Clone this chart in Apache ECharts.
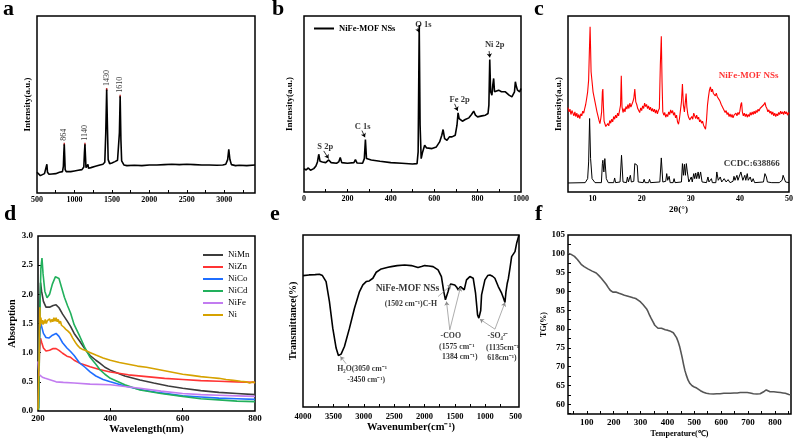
<!DOCTYPE html>
<html><head><meta charset="utf-8">
<script src="https://cdn.jsdelivr.net/npm/echarts@6/dist/echarts.min.js"></script>
<style>html,body{margin:0;padding:0;background:#fff}#c{width:796px;height:439px}</style>
</head><body><div id="c"></div>
<script>
// ---------------- DATA ----------------
// (a) Raman spectrum
const ramanData = [[500,62],[520,58],[545,52],[570,55],[600,58],[615,60],[625,80],[632,86],[640,62],[660,56],[700,57],[750,58],[800,62],[840,64],[852,80],[858,120],[864,146],[870,110],[876,70],[890,64],[950,64],[1000,66],[1050,68],[1100,70],[1125,78],[1133,120],[1140,146],[1147,110],[1154,76],[1170,74],[1180,86],[1188,74],[1220,76],[1280,80],[1340,84],[1380,86],[1405,92],[1418,180],[1430,310],[1440,200],[1450,100],[1470,88],[1500,90],[1540,94],[1560,92],[1575,98],[1590,96],[1600,180],[1610,290],[1620,160],[1630,96],[1660,84],[1700,82],[1800,83],[1900,82],[2000,84],[2100,84],[2200,85],[2300,86],[2400,85],[2500,86],[2600,85],[2700,84],[2800,84],[2900,83],[2980,84],[3020,86],[3045,100],[3060,131],[3075,100],[3095,85],[3150,82],[3200,83],[3300,82],[3410,84]];
const ramanPeaks = [[864,146,'864'],[1140,146,'1140'],[1430,310,'1430'],[1610,290,'1610']];
const ramanXLabels = [500,1000,1500,2000,2500,3000];
const ramanXTicks = [750,1000,1250,1500,1750,2000,2250,2500,2750,3000,3250];

// (b) XPS survey
const xpsData = [[0,70],[10,66],[20,72],[30,65],[45,70],[55,78],[62,90],[68,113],[74,92],[85,90],[100,88],[114,96],[125,88],[150,86],[160,90],[167,103],[174,88],[200,86],[230,88],[237,97],[244,87],[270,86],[278,100],[283,157],[288,100],[295,95],[310,96],[350,92],[400,88],[450,86],[500,84],[521,85],[526,120],[531,500],[535,200],[540,100],[546,118],[556,140],[565,132],[574,130],[590,130],[610,135],[625,150],[635,170],[641,187],[648,160],[659,155],[670,165],[682,165],[697,170],[705,200],[710,237],[715,220],[720,215],[730,212],[743,217],[760,222],[772,232],[782,242],[790,230],[800,225],[820,228],[836,230],[848,235],[852,260],[856,397],[860,300],[866,290],[870,320],[874,340],[878,300],[882,295],[897,305],[910,300],[928,300],[945,290],[958,285],[966,285],[970,300],[974,330],[979,315],[984,305],[989,310],[994,300],[1000,310]];
const xpsLabels = ['S 2p','C 1s','O 1s','Fe 2p','Ni 2p'];
const xpsXLabels = [0,200,400,600,800,1000];
const xpsXTicks = [100,200,300,400,500,600,700,800,900];

// (c) XRD
const xrdSample = [[5.0,253],[5.2,240],[5.4,248],[5.6,232],[5.8,244],[6.0,236],[6.2,228],[6.4,240],[6.6,226],[6.8,236],[7.0,222],[7.2,232],[7.4,220],[7.6,234],[7.8,228],[8.0,242],[8.2,236],[8.4,250],[8.6,262],[8.8,280],[9.0,300],[9.2,335],[9.35,420],[9.5,495],[9.6,430],[9.7,360],[9.9,330],[10.1,300],[10.3,285],[10.5,270],[10.7,255],[10.9,240],[11.1,228],[11.3,215],[11.5,205],[11.7,222],[11.85,240],[12.0,300],[12.1,308],[12.2,260],[12.35,212],[12.5,205],[12.7,196],[12.9,192],[13.1,205],[13.3,198],[13.5,214],[13.7,206],[13.9,218],[14.1,210],[14.3,226],[14.5,218],[14.7,230],[14.9,222],[15.1,236],[15.3,228],[15.5,244],[15.7,260],[15.85,348],[16.0,255],[16.2,238],[16.4,250],[16.6,240],[16.8,256],[17.0,248],[17.2,262],[17.4,250],[17.6,266],[17.8,254],[18.0,262],[18.2,270],[18.4,280],[18.6,308],[18.8,270],[19.0,262],[19.2,250],[19.4,246],[19.6,238],[19.8,252],[20.0,244],[20.2,258],[20.4,250],[20.6,266],[20.8,256],[21.0,262],[21.2,250],[21.4,258],[21.6,246],[21.8,254],[22.0,242],[22.2,250],[22.4,240],[22.6,248],[22.8,236],[23.0,246],[23.2,234],[23.4,244],[23.6,250],[23.8,380],[24.0,466],[24.15,330],[24.3,240],[24.5,230],[24.7,238],[24.9,224],[25.1,232],[25.3,226],[25.5,240],[25.7,232],[25.9,246],[26.1,236],[26.3,244],[26.5,230],[26.7,238],[26.9,222],[27.1,230],[27.3,210],[27.5,203],[27.7,220],[27.9,245],[28.1,270],[28.3,323],[28.5,260],[28.7,240],[28.9,270],[29.05,295],[29.2,255],[29.4,232],[29.6,222],[29.8,216],[30.0,212],[30.2,226],[30.4,218],[30.6,236],[30.8,228],[31.0,220],[31.2,230],[31.4,218],[31.6,224],[31.8,210],[32.0,216],[32.2,206],[32.4,212],[32.6,200],[32.8,196],[33.0,188],[33.2,215],[33.4,260],[33.6,285],[33.8,305],[34.0,315],[34.2,300],[34.4,308],[34.6,295],[34.8,300],[35.0,288],[35.2,296],[35.4,285],[35.6,280],[35.8,276],[36.0,270],[36.2,262],[36.4,258],[36.6,250],[36.8,246],[37.0,238],[37.2,244],[37.4,232],[37.6,238],[37.8,226],[38.0,234],[38.2,224],[38.4,232],[38.6,222],[38.8,230],[39.0,226],[39.2,236],[39.4,228],[39.6,238],[39.8,232],[40.0,242],[40.2,262],[40.35,268],[40.5,240],[40.7,228],[40.9,236],[41.1,226],[41.3,234],[41.5,224],[41.7,232],[41.9,226],[42.1,238],[42.3,230],[42.5,240],[42.7,232],[42.9,242],[43.1,234],[43.3,244],[43.5,238],[43.7,248],[43.9,242],[44.1,250],[44.3,246],[44.5,256],[44.7,252],[44.9,262],[45.1,268],[45.3,256],[45.5,250],[45.7,240],[45.9,246],[46.1,236],[46.3,242],[46.5,232],[46.7,240],[46.9,228],[47.1,236],[47.3,226],[47.5,234],[47.7,228],[47.9,238],[48.1,232],[48.3,242],[48.5,234],[48.7,240],[48.9,232],[49.1,242],[49.3,234],[49.5,240],[49.7,230],[49.9,238],[50.0,233]];
const xrdRef = [[5,27],[8.5,28],[9.0,40],[9.2,90],[9.4,220],[9.6,100],[9.9,40],[10.5,28],[11.8,28],[12.0,85],[12.1,95],[12.3,60],[12.5,100],[12.6,102],[12.8,40],[13.2,28],[14.3,28],[14.5,42],[14.7,28],[15.6,30],[15.9,110],[16.2,30],[16.9,28],[17.1,45],[17.3,30],[17.6,30],[17.7,50],[17.9,30],[18.4,32],[18.6,85],[18.9,85],[19.1,80],[19.3,30],[20.3,28],[20.5,38],[20.7,28],[21.4,28],[21.6,38],[21.8,28],[23.7,30],[24.0,102],[24.3,30],[24.9,32],[25.1,55],[25.3,35],[25.6,47],[25.8,28],[26.4,28],[26.6,40],[26.8,28],[28.1,30],[28.3,85],[28.5,50],[28.7,83],[28.9,50],[29.1,85],[29.3,60],[29.6,30],[30.0,30],[30.1,45],[30.3,30],[30.6,55],[30.8,40],[31.0,57],[31.2,40],[31.5,60],[31.7,40],[32.0,60],[32.3,30],[33.2,28],[33.5,45],[33.7,30],[34.2,40],[34.4,28],[35.1,28],[35.3,60],[35.6,35],[36.0,45],[36.3,30],[36.8,40],[37.2,30],[37.6,37],[38.0,28],[38.6,32],[38.8,47],[39.0,35],[39.4,50],[39.6,35],[40.2,60],[40.4,65],[40.6,35],[41.0,50],[41.2,35],[41.5,55],[41.7,35],[42.1,45],[42.4,30],[42.7,40],[43.0,28],[44.8,30],[45.1,55],[45.4,45],[45.6,30],[46.5,28],[48.0,28],[48.6,35],[48.8,50],[49.1,45],[49.3,30],[50,28]];
const xrdXLabels = [10,20,30,40,50];

// (d) UV-vis absorption
const uvNames = ['NiMn','NiZn','NiCo','NiCd','NiFe','Ni'];
const uvNiMn = [[201,0.05],[204,1.6],[207,2.2],[210,2.05],[215,1.88],[222,1.78],[232,1.78],[242,1.81],[250,1.82],[258,1.77],[268,1.66],[280,1.55],[290,1.45],[300,1.33],[315,1.2],[330,1.06],[344,0.95],[360,0.87],[371,0.82],[385,0.75],[400,0.7],[440,0.6],[482,0.53],[520,0.48],[560,0.43],[600,0.39],[650,0.35],[700,0.32],[750,0.3],[800,0.28]];
const uvNiZn = [[201,0.05],[204,1.0],[207,1.25],[210,1.18],[215,1.08],[222,1.03],[232,1.04],[242,1.07],[250,1.07],[258,1.04],[268,0.99],[280,0.94],[290,0.92],[300,0.87],[315,0.82],[330,0.79],[344,0.76],[370,0.71],[400,0.67],[450,0.62],[500,0.59],[550,0.56],[600,0.54],[650,0.52],[700,0.51],[750,0.5],[800,0.49]];
const uvNiCo = [[201,0.05],[204,1.2],[207,1.52],[210,1.45],[215,1.33],[222,1.26],[230,1.25],[240,1.3],[250,1.33],[258,1.28],[268,1.17],[280,1.08],[290,1.02],[300,0.95],[314,0.83],[330,0.75],[344,0.67],[360,0.6],[380,0.54],[400,0.5],[440,0.43],[482,0.37],[540,0.31],[600,0.26],[650,0.24],[700,0.22],[750,0.21],[800,0.2]];
const uvNiCd = [[202,0.02],[205,1.6],[208,2.45],[211,2.62],[214,2.35],[219,2.05],[225,1.94],[232,2.0],[240,2.18],[248,2.3],[253,2.31],[258,2.27],[265,2.12],[273,1.95],[282,1.8],[290,1.68],[300,1.48],[314,1.3],[330,1.08],[344,0.92],[360,0.8],[371,0.71],[385,0.63],[400,0.56],[440,0.45],[482,0.36],[540,0.3],[600,0.25],[650,0.21],[700,0.19],[750,0.17],[800,0.16]];
const uvNiFe = [[200,0.85],[202,0.7],[204,0.62],[207,0.6],[212,0.58],[220,0.56],[235,0.53],[250,0.5],[270,0.49],[300,0.48],[344,0.46],[400,0.45],[440,0.42],[482,0.39],[540,0.34],[600,0.3],[650,0.28],[700,0.27],[750,0.26],[800,0.25]];
const uvNi = [[200,0.02],[203,0.9],[205,1.78],[206.5,1.45],[208,1.6],[210,1.5],[212,1.56],[214,1.48],[216,1.55],[218,1.5],[220,1.57],[223,1.5],[226,1.55],[229,1.52],[232,1.58],[235,1.52],[238,1.57],[241,1.53],[244,1.6],[247,1.54],[250,1.6],[253,1.53],[256,1.57],[259,1.5],[262,1.54],[265,1.47],[268,1.5],[271,1.44],[274,1.46],[277,1.4],[280,1.42],[283,1.37],[286,1.38],[289,1.33],[292,1.32],[296,1.25],[300,1.22],[305,1.16],[310,1.12],[316,1.08],[322,1.06],[330,1.04],[345,1.0],[360,0.96],[380,0.91],[400,0.87],[425,0.83],[450,0.8],[475,0.77],[500,0.75],[525,0.72],[550,0.69],[575,0.66],[600,0.63],[625,0.61],[650,0.59],[675,0.575],[700,0.56],[720,0.54],[740,0.525],[760,0.51],[775,0.5],[785,0.48],[795,0.5],[800,0.48]];
const uvXLabels = [200,400,600,800];
const uvYLabels = [0,0.5,1.0,1.5,2.0,2.5,3.0];

// (e) FTIR
const ftirData = [[4000,395],[3900,397],[3800,398],[3730,399],[3680,395],[3620,377],[3565,317],[3510,237],[3455,177],[3417,155],[3373,159],[3318,182],[3235,237],[3153,297],[3070,347],[3015,367],[2960,377],[2910,379],[2888,377],[2850,387],[2795,405],[2712,415],[2600,420],[2547,422],[2450,425],[2327,427],[2217,425],[2107,419],[2050,422],[1997,425],[1930,424],[1859,422],[1777,412],[1722,392],[1683,347],[1656,322],[1639,319],[1612,347],[1590,362],[1568,370],[1540,372],[1502,367],[1470,360],[1447,352],[1420,358],[1408,362],[1380,358],[1347,352],[1309,382],[1254,392],[1199,387],[1160,342],[1127,277],[1106,267],[1089,264],[1075,290],[1061,337],[1006,382],[960,395],[924,397],[880,393],[842,387],[786,362],[731,342],[704,329],[676,314],[660,345],[638,372],[621,385],[594,417],[566,452],[553,450],[539,447],[511,467],[484,492],[445,517]];
const ftirXLabels = [500,1000,1500,2000,2500,3000,3500,4000];
const ftirXTicks = [750,1000,1250,1500,1750,2000,2250,2500,2750,3000,3250,3500,3750];
const ftirNotes = ['NiFe-MOF NSs','(1502 cm⁻¹)C-H','-COO','(1575 cm⁻¹','1384 cm⁻¹)','-SO₄²⁻','(1135cm⁻¹','618cm⁻¹)','H₂O(3050 cm⁻¹','-3450 cm⁻¹)'];

// (f) TG
const tgData = [[32,100.1],[40,99.9],[54,99.3],[65,98.5],[79,97.2],[90,96.6],[104,96.0],[120,95.4],[135,94.9],[145,94.2],[154,93.5],[163,92.7],[172,91.9],[180,91.0],[187,90.3],[197,89.8],[210,89.8],[220,89.5],[228,89.3],[240,89.0],[247,88.8],[260,88.6],[272,88.3],[282,88.1],[291,87.7],[300,87.2],[309,86.5],[316,86.0],[322,85.4],[328,84.6],[334,83.6],[341,82.6],[347,81.8],[353,81.0],[359,80.5],[365,80.2],[372,80.1],[378,80.2],[384,79.7],[392,79.8],[400,79.7],[409,79.5],[416,79.3],[422,79.0],[428,78.5],[434,77.7],[440,76.6],[446,75.2],[450,74.0],[455,72.4],[460,70.6],[465,69.0],[470,67.8],[477,66.4],[484,65.5],[492,64.9],[500,64.6],[509,64.3],[516,63.9],[523,63.6],[534,63.2],[545,62.9],[556,62.8],[571,62.7],[584,62.8],[596,62.8],[610,62.9],[622,62.9],[634,62.9],[648,63.0],[660,63.0],[671,63.1],[685,63.1],[697,63.1],[708,63.0],[720,62.8],[733,62.7],[745,62.8],[752,63.0],[760,63.4],[768,63.8],[774,63.5],[782,63.3],[796,63.3],[810,63.2],[821,63.1],[830,63.0],[839,62.9],[846,62.7],[852,62.6],[858,62.5]];
const tgXLabels = [100,200,300,400,500,600,700,800];
const tgXTicks = [50,100,150,200,250,300,350,400,450,500,550,600,650,700,750,800,850];
const tgYLabels = [60,65,70,75,80,85,90,95,100,105];
const tgYTicks = [57.5,60,62.5,65,67.5,70,72.5,75,77.5,80,82.5,85,87.5,90,92.5,95,97.5,100,102.5];

// ---------------- OPTION ----------------
const SERIF = '"Liberation Serif","Times New Roman",serif';
const grids = [
  {left:37, top:16, width:218, height:177},
  {left:304, top:16, width:217, height:176},
  {left:568, top:16, width:223, height:176},
  {left:38, top:236, width:217, height:175},
  {left:303, top:235, width:216, height:172},
  {left:568, top:235, width:223, height:180}
].map(g => Object.assign(g, {show:true, borderColor:'#000', borderWidth:1.5, backgroundColor:'transparent'}));

function axis(gi, o) {
  return {
    gridIndex: gi, type: 'value', min: o.min, max: o.max, inverse: !!o.inverse,
    axisLine: {show: false}, splitLine: {show: false},
    axisLabel: o.labels ? {show: true, customValues: o.labels, fontFamily: SERIF, fontWeight: 'bold',
      fontSize: o.fs || 8, color: '#000', margin: o.margin || 3, formatter: o.fmt || (v => String(v))} : {show: false},
    axisTick: o.ticks ? {show: true, inside: true, length: 3, customValues: o.ticks, lineStyle: {color: '#000', width: 1}} : {show: false},
    name: o.name || '', nameLocation: 'middle', nameGap: o.gap || 10,
    nameTextStyle: {fontFamily: SERIF, fontWeight: 'bold', fontSize: o.nfs || 9, color: '#000'}
  };
}

const xAxes = [
  axis(0, {min:500, max:3410, labels: ramanXLabels, ticks: ramanXTicks, fs: 8, margin: 3}),
  axis(1, {min:0, max:1000, labels: xpsXLabels, ticks: xpsXTicks, fs: 8, margin: 3}),
  axis(2, {min:5, max:50, labels: xrdXLabels, fs: 8, margin: 3, name: '2θ(°)', gap: 13, nfs: 9}),
  axis(3, {min:200, max:800, labels: uvXLabels, ticks: [400,600], fs: 9, margin: 3, name: 'Wavelength(nm)', gap: 12, nfs: 10.5}),
  axis(4, {min:445, max:4000, inverse: true, labels: ftirXLabels, ticks: ftirXTicks, fs: 8.5, margin: 5, name: 'Wavenumber(cm⁻¹)', gap: 15, nfs: 10.5}),
  axis(5, {min:30, max:860, labels: tgXLabels, ticks: tgXTicks, fs: 9, margin: 4, name: 'Temperature(℃)', gap: 16, nfs: 8})
];
const yAxes = [
  axis(0, {min:0, max:530, name: 'Intensity(a.u.)', gap: 5, nfs: 9}),
  axis(1, {min:0, max:527, name: 'Intensity(a.u.)', gap: 10, nfs: 9}),
  axis(2, {min:0, max:527, name: 'Intensity(a.u.)', gap: 5, nfs: 9}),
  axis(3, {min:0, max:3, labels: uvYLabels, ticks: [0.5,1,1.5,2,2.5], fs: 9, margin: 5, fmt: v => v.toFixed(1), name: 'Absorption', gap: 21, nfs: 10}),
  axis(4, {min:0, max:517, name: 'Transmittance(%)', gap: 5, nfs: 10}),
  axis(5, {min:57.4, max:105, labels: tgYLabels, ticks: tgYTicks, fs: 9, margin: 3, name: 'TG(%)', gap: 16, nfs: 8})
];

function textSeries(gi, items, style) {
  return {
    type: 'scatter', xAxisIndex: gi, yAxisIndex: gi, symbolSize: 0, silent: true, z: 5,
    data: items.map(it => ({name: it[0], value: [it[1], it[2]]})),
    label: Object.assign({show: true, position: 'inside', formatter: '{b}', fontFamily: SERIF, color: '#000', fontWeight: 'bold', fontSize: 8}, style)
  };
}
function arrows(list, color, width) {
  return {silent: true, symbol: ['none', 'arrow'], symbolSize: 4, animation: false,
    lineStyle: {color: color, width: width, type: 'solid'}, label: {show: false},
    data: list.map(p => [{coord: [p[0], p[1]]}, {coord: [p[2], p[3]]}])};
}

const uvColors = ['#3c3c3c', '#ff3434', '#1f6eff', '#22b05c', '#c27cf0', '#d6a200'];
const uvSeriesData = [uvNiMn, uvNiZn, uvNiCo, uvNiCd, uvNiFe, uvNi];

const series = [
  // a
  {type:'line', name:'Raman', xAxisIndex:0, yAxisIndex:0, data: ramanData, symbol:'none', lineStyle:{color:'#000', width:1.6}, silent:true},
  {type:'scatter', xAxisIndex:0, yAxisIndex:0, silent:true, symbol:'rect', symbolSize:[1.5,3], itemStyle:{color:'#b00000'},
    data: ramanPeaks.map(p => ({name: p[2], value: [p[0], p[1]]})),
    label:{show:true, position:'top', distance:2, rotate:90, align:'left', verticalAlign:'middle', formatter:'{b}', fontFamily:SERIF, fontSize:8, color:'#000'}},
  // b
  {type:'line', name:'NiFe-MOF NSs', xAxisIndex:1, yAxisIndex:1, data: xpsData, symbol:'none', lineStyle:{color:'#000', width:1.6}, itemStyle:{color:'#000'}, silent:true,
    markLine: arrows([[91,123,113,100],[267,184,281,164],[524,490,530,478],[694,264,708,243],[853,422,856,403]], '#000', 0.8)},
  textSeries(1, [[xpsLabels[0],98,135],[xpsLabels[1],270,195],[xpsLabels[2],550,500],[xpsLabels[3],717,277],[xpsLabels[4],879,440]], {fontSize:8.5}),
  // c
  {type:'line', name:'XRD sample', xAxisIndex:2, yAxisIndex:2, data: xrdSample, symbol:'none', lineStyle:{color:'#ff0000', width:1.1}, silent:true},
  {type:'line', name:'XRD ref', xAxisIndex:2, yAxisIndex:2, data: xrdRef, symbol:'none', lineStyle:{color:'#000', width:1}, silent:true},
  textSeries(2, [['NiFe-MOF NSs',41.8,347]], {color:'#ff0000', fontSize:9}),
  textSeries(2, [['CCDC:638866',42.4,86]], {fontSize:9}),
  // e
  {type:'line', name:'FTIR', xAxisIndex:4, yAxisIndex:4, data: ftirData, symbol:'none', lineStyle:{color:'#000', width:1.6}, silent:true,
    markLine: arrows([[3290,130,3384,152],[1777,332,1557,367],[1584,232,1639,317],[1584,232,1408,360],[841,234,1089,264],[841,234,676,314]], '#8a8a8a', 0.7)},
  textSeries(4, [[ftirNotes[0],2280,355]], {fontSize:9.6}),
  textSeries(4, [[ftirNotes[1],2225,310],[ftirNotes[2],1568,214],[ftirNotes[3],1469,181],[ftirNotes[4],1419,151],[ftirNotes[5],792,214],[ftirNotes[6],715,178],[ftirNotes[7],726,148],[ftirNotes[8],3026,115],[ftirNotes[9],2960,82]], {fontSize:7.8}),
  // f
  {type:'line', name:'TG', xAxisIndex:5, yAxisIndex:5, data: tgData, symbol:'none', lineStyle:{color:'#555', width:1.6}, silent:true}
];
uvNames.forEach((n, i) => {
  series.push({type:'line', name:n, xAxisIndex:3, yAxisIndex:3, data: uvSeriesData[i], symbol:'none', showSymbol:false,
    lineStyle:{color: uvColors[i], width:1.6}, itemStyle:{color: uvColors[i]}, silent:true});
});

const letterStyle = {fontFamily: SERIF, fontWeight: 'bold', fontSize: 22, color: '#000'};
const option = {
  animation: false,
  backgroundColor: '#fff',
  title: [
    {text:'a', left:3, top:-2}, {text:'b', left:272, top:-2}, {text:'c', left:534, top:-2},
    {text:'d', left:4, top:203}, {text:'e', left:270, top:203}, {text:'f', left:535, top:203}
  ].map(t => Object.assign(t, {padding:0, textStyle: letterStyle})),
  legend: [
    {data:['NiFe-MOF NSs'], left:309, top:19, orient:'vertical', icon:'rect', itemWidth:20, itemHeight:2,
      textStyle:{fontFamily:SERIF, fontWeight:'bold', fontSize:8.5, color:'#000'}, selectedMode:false},
    {data: uvNames, left:198, top:245, orient:'vertical', icon:'rect', itemWidth:20, itemHeight:2, itemGap:2,
      textStyle:{fontFamily:SERIF, fontSize:9, color:'#000', lineHeight:10}, selectedMode:false}
  ],
  grid: grids,
  xAxis: xAxes,
  yAxis: yAxes,
  series: series
};
const chart = echarts.init(document.getElementById('c'));
chart.setOption(option);
</script></body></html>
